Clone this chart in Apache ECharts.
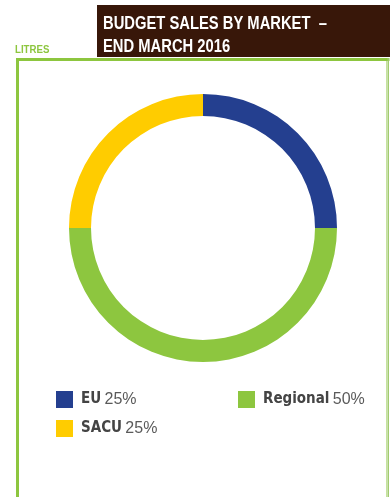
<!DOCTYPE html>
<html><head><meta charset="utf-8">
<script src="https://cdn.jsdelivr.net/npm/echarts@6/dist/echarts.min.js"></script>
<style>html,body{margin:0;padding:0;background:#fff;}#c{width:390px;height:497px;}</style>
</head><body><div id="c"></div>
<script>
const categories = ['EU', 'Regional', 'SACU'];
const values = [25, 50, 25];
const percentLabels = ['25%', '50%', '25%'];
const colors = ['#243F8F', '#8DC63F', '#FFCC00'];
const titleLines = ['BUDGET SALES BY MARKET  –', 'END MARCH 2016'];
const unitLabel = 'LITRES';

const cond = '"DejaVu Sans Condensed", "Liberation Sans", sans-serif';
const sans = '"Liberation Sans", Arial, sans-serif';
const chart = echarts.init(document.getElementById('c'), null, {renderer: 'canvas'});

function legendFor(i, left, top) {
  return {
    data: [categories[i]],
    left: left, top: top, padding: 0,
    icon: 'rect', itemWidth: 17, itemHeight: 17,
    selectedMode: false,
    formatter: name => '{b|' + name + '} {n|' + percentLabels[categories.indexOf(name)] + '}',
    textStyle: {
      padding: [0, 0, 0, 3],
      rich: {
        b: {fontFamily: cond, fontWeight: 'bold', fontSize: 15, color: '#444'},
        n: {fontFamily: sans, fontSize: 16, color: '#5a5a5a'}
      }
    }
  };
}

chart.setOption({
  animation: false,
  graphic: [
    {type: 'rect', shape: {x: 97, y: 5, width: 293, height: 52}, style: {fill: '#381709'}},
    {type: 'text', x: 103, y: 12, scaleX: 0.82, style: {text: titleLines.join('\n'), fill: '#fff', font: 'bold 18px ' + sans, lineHeight: 23.5}},
    {type: 'text', x: 15, y: 44.5, scaleX: 0.88, style: {text: unitLabel, fill: '#8DC63F', font: 'bold 11px ' + sans}},
    {type: 'polyline', shape: {points: [[17.5, 497], [17.5, 59.5], [388, 59.5], [388, 497]]}, style: {stroke: '#8DC63F', lineWidth: 3, fill: null}},
    {type: 'rect', shape: {x: 387, y: 61, width: 3, height: 436}, style: {fill: '#fff'}},
    {type: 'line', shape: {x1: 388.2, y1: 58, x2: 388.2, y2: 497}, style: {stroke: '#9DC86A', lineWidth: 1.5}}
  ],
  legend: [legendFor(0, 56, 391), legendFor(1, 238, 391), legendFor(2, 56, 420)],
  series: [{
    type: 'pie',
    center: [203, 228],
    radius: [112, 134],
    startAngle: 90,
    clockwise: true,
    silent: true,
    label: {show: false},
    labelLine: {show: false},
    itemStyle: {borderWidth: 0},
    data: categories.map((c, i) => ({name: c, value: values[i], itemStyle: {color: colors[i]}}))
  }]
});
</script></body></html>
